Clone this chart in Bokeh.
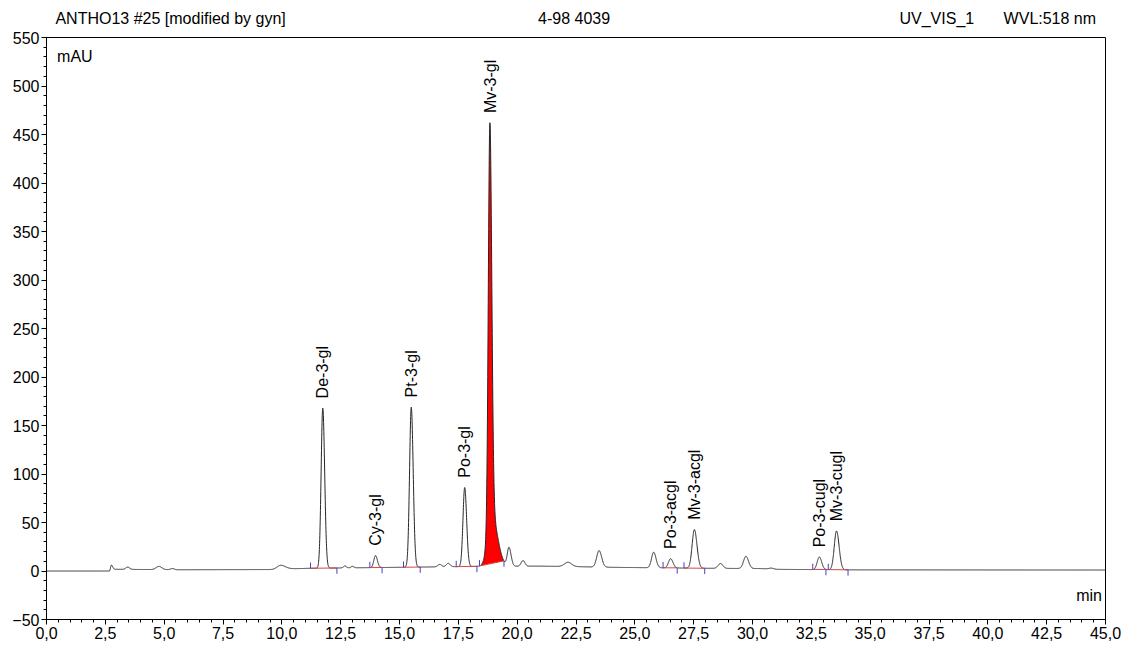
import numpy as np
from bokeh.plotting import figure
from bokeh.layouts import column
from bokeh.models import FixedTicker, CustomJSTickFormatter, Label, Range1d, ColumnDataSource
from bokeh.embed import file_html
from bokeh.resources import INLINE
from bokeh.core.properties import value

# ---------------- data ----------------
# detector baseline (min, mAU)
base_t = [0.0, 2.68, 2.72, 5.6, 9.6, 10.4, 11.2, 13.0, 15.0, 17.4, 18.4, 21.0, 22.5, 24.0, 26.0, 28.0, 30.4, 31.0, 34.2, 45.0]
base_y = [0.0, 0.0, 1.8, 1.3, 1.5, 2.3, 2.8, 3.3, 3.8, 4.5, 4.8, 5.0, 4.5, 3.8, 3.3, 2.8, 2.5, 1.7, 1.2, 1.0]

# peaks: retention time (min), height above baseline (mAU), left / right widths (min)
peak_rt = [2.76, 3.45, 4.78, 5.35, 9.95, 11.74, 12.68, 13.00, 13.98, 15.50, 16.71, 17.07, 17.77,
           18.84, 18.90, 19.65, 20.25, 22.16, 23.48, 25.80, 26.52, 27.53, 28.64, 29.72, 30.80,
           32.84, 33.57]
peak_height = [4.3, 2.3, 3.3, 1.2, 4.0, 165.0, 2.0, 1.5, 12.4, 165.0, 2.5, 3.5, 81.5,
               406.0, 55.0, 19.0, 5.8, 4.4, 17.0, 16.0, 9.5, 39.8, 5.0, 12.6, 1.0,
               13.0, 40.0]
peak_sigma_left = [0.03, 0.08, 0.12, 0.08, 0.15, 0.07, 0.06, 0.06, 0.07, 0.072, 0.08, 0.08, 0.072,
                   0.066, 0.16, 0.07, 0.08, 0.15, 0.10, 0.09, 0.09, 0.095, 0.10, 0.10, 0.10,
                   0.09, 0.095]
peak_sigma_right = [0.05, 0.08, 0.12, 0.08, 0.20, 0.08, 0.06, 0.06, 0.08, 0.082, 0.08, 0.08, 0.082,
                    0.08, 0.25, 0.09, 0.08, 0.15, 0.11, 0.10, 0.10, 0.11, 0.10, 0.11, 0.10,
                    0.10, 0.11]

# identified peaks
label_names = ["De-3-gl", "Cy-3-gl", "Pt-3-gl", "Po-3-gl", "Mv-3-gl",
               "Po-3-acgl", "Mv-3-acgl", "Po-3-cugl", "Mv-3-cugl"]
label_rt = [11.74, 13.98, 15.50, 17.77, 18.85, 26.52, 27.53, 32.84, 33.57]
integ_start = [11.22, 13.74, 15.17, 17.41, 18.40, 26.20, 27.09, 32.56, 33.22]
integ_end = [12.34, 14.26, 15.88, 18.29, 19.44, 26.80, 27.97, 33.12, 34.06]
filled_peak = "Mv-3-gl"

x_ticks = [0.0, 2.5, 5.0, 7.5, 10.0, 12.5, 15.0, 17.5, 20.0, 22.5, 25.0, 27.5, 30.0,
           32.5, 35.0, 37.5, 40.0, 42.5, 45.0]
y_ticks = [-50, 0, 50, 100, 150, 200, 250, 300, 350, 400, 450, 500, 550]

header_texts = ["ANTHO13 #25 [modified by gyn]", "4-98 4039", "UV_VIS_1", "WVL:518 nm"]
header_x = [0.38, 22.42, 39.42, 44.6]
header_align = ["left", "center", "right", "right"]

# ---------------- build trace ----------------
t = np.round(np.arange(0.0, 45.0 + 1e-9, 0.005), 4)
trace = np.interp(t, base_t, base_y)
for rt, h, sl, sr in zip(peak_rt, peak_height, peak_sigma_left, peak_sigma_right):
    s = np.where(t < rt, sl, sr)
    trace = trace + h * np.exp(-0.5 * ((t - rt) / s) ** 2)

def at(x):
    return float(np.interp(x, t, trace))

FONT = "Liberation Sans"
W = 1121
LB, RB = 46, 16
HEAD_H = 30

xr = Range1d(0, 45)

# header strip with the run information
head = figure(width=W, height=HEAD_H, output_backend="svg", toolbar_location=None,
              x_range=xr, y_range=Range1d(0, HEAD_H),
              x_axis_location=None, y_axis_location=None,
              min_border_left=LB, min_border_right=RB, min_border_top=0, min_border_bottom=0)
head.outline_line_color = None
head.grid.visible = False
head.background_fill_color = "white"
head.border_fill_color = "white"
hsrc = ColumnDataSource(dict(x=header_x, y=[12] * len(header_x), text=header_texts, align=header_align))
head.text(x="x", y="y", text="text", text_align="align", source=hsrc, text_baseline="middle",
          text_font=value(FONT), text_font_size=value("16px"), text_color="black")

p = figure(width=W, height=641 - HEAD_H, output_backend="svg", toolbar_location=None,
           x_range=xr, y_range=Range1d(-50, 550),
           min_border_left=LB, min_border_right=RB, min_border_top=7, min_border_bottom=10)
p.background_fill_color = "white"
p.border_fill_color = "white"
p.outline_line_color = "black"
p.outline_line_width = 1
p.grid.visible = False

for ax in (p.xaxis[0], p.yaxis[0]):
    ax.axis_line_color = "black"
    ax.major_tick_line_color = "black"
    ax.minor_tick_line_color = "black"
    ax.major_tick_in = 0
    ax.major_tick_out = 5
    ax.minor_tick_in = 0
    ax.minor_tick_out = 3
    ax.major_label_text_font = FONT
    ax.major_label_text_font_size = "16px"
    ax.major_label_text_color = "black"
    ax.major_label_standoff = 2

p.xaxis.ticker = FixedTicker(ticks=x_ticks, minor_ticks=list(np.arange(0, 45.01, 0.5)))
p.yaxis.ticker = FixedTicker(ticks=y_ticks, minor_ticks=list(range(-50, 551, 10)))
p.xaxis.formatter = CustomJSTickFormatter(code="return tick.toFixed(1).replace('.', ',');")

# filled integration area of main peak
i = label_names.index(filled_peak)
s0, e0 = integ_start[i], integ_end[i]
m = (t >= s0) & (t <= e0)
tx = t[m]
yb = np.interp(tx, [s0, e0], [at(s0), at(e0)])
p.varea(x=tx, y1=yb, y2=trace[m], fill_color="#ff0000")

# chromatogram trace
p.line(t, trace, line_color="#262626", line_width=1)

# integration baselines and delimiters
ys = [at(x) for x in integ_start]
ye = [at(x) for x in integ_end]
p.segment(x0=integ_start, y0=ys, x1=integ_end, y1=ye, line_color="#d04848", line_width=1)
p.segment(x0=integ_start, y0=ys, x1=integ_start, y1=[v + 6 for v in ys], line_color="#4040d0", line_width=1)
p.segment(x0=integ_end, y0=ye, x1=integ_end, y1=[v - 6 for v in ye], line_color="#4040d0", line_width=1)

# peak name labels above apex
apex = []
for rt in label_rt:
    w = (t > rt - 0.15) & (t < rt + 0.15)
    apex.append(float(trace[w].max()))
src = ColumnDataSource(dict(x=label_rt, y=[a + 10 for a in apex], name=label_names))
p.text(x="x", y="y", text="name", source=src, angle=np.pi / 2, text_align="left",
       text_baseline="middle", text_font=value(FONT), text_font_size=value("16px"),
       text_color="black")

def lab(x, y, text, align):
    p.add_layout(Label(x=x, y=y, text=text, text_font=FONT, text_font_size="16px",
                       text_color="black", text_align=align, text_baseline="middle"))

lab(0.45, 530, "mAU", "left")
lab(44.85, -25, "min", "right")

layout = column(head, p, spacing=0)
open("out.html", "w").write(file_html(layout, INLINE))
